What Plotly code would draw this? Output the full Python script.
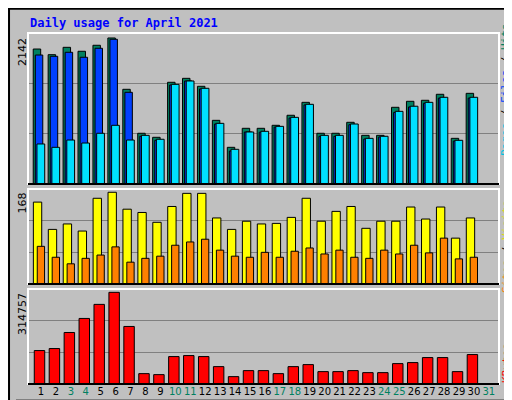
import plotly.graph_objects as go

days = list(range(1, 32))
weekend = [3, 4, 10, 11, 17, 18, 24, 25, 31]
hits = [1980, 1897, 2005, 1947, 2035, 2142, 1389, 744, 685, 1492, 1550, 1433, 934, 538, 817,
        817, 861, 1008, 1198, 744, 744, 905, 714, 714, 1125, 1213, 1228, 1316, 670, 1330, 0]
files = [1892, 1873, 1932, 1859, 1991, 2123, 1345, 700, 641, 1452, 1511, 1394, 880, 484, 763,
         760, 835, 968, 1160, 700, 700, 870, 660, 690, 1050, 1130, 1185, 1260, 630, 1260, 0]
pages = [587, 538, 645, 601, 744, 861, 645, 714, 656, 1462, 1511, 1404, 890, 509, 763,
         773, 846, 978, 1169, 714, 714, 880, 670, 700, 1066, 1141, 1198, 1272, 641, 1272, 0]
visits = [150, 100, 110, 97, 157, 168, 137, 131, 113, 142, 166, 166, 121, 100, 115,
          110, 111, 122, 157, 115, 133, 142, 102, 115, 115, 141, 119, 141, 84, 121, 0]
sites = [69, 49, 37, 47, 53, 68, 40, 47, 51, 71, 77, 82, 62, 51, 49,
         58, 49, 60, 66, 55, 62, 49, 47, 62, 55, 71, 57, 84, 46, 49, 0]
kbytes = [114870, 121760, 176900, 225150, 273390, 314757, 197580, 35610, 32160, 94190, 97640,
          94190, 59730, 25270, 45950, 45950, 35610, 59730, 66620, 42500, 42500, 45950, 39060,
          39060, 70070, 73520, 90750, 90750, 42500, 101090, 0]

BG = "#c0c0c0"
fig = go.Figure()
line = dict(color="black", width=1)

def bar(y, color, off, w, ax):
    fig.add_trace(go.Bar(x=days, y=y, offset=off, width=w, marker=dict(color=color, line=line),
                         xaxis="x" + ax, yaxis="y" + ax, showlegend=False, hoverinfo="skip"))

bar(hits, "#008060", -0.52, 0.5, "")
bar(files, "#0040ff", -0.38, 0.5, "")
bar(pages, "#00e0ff", -0.27, 0.52, "")
bar(visits, "#ffff00", -0.51, 0.56, "2")
bar(sites, "#ff8000", -0.25, 0.49, "2")
bar(kbytes, "#ff0000", -0.45, 0.7, "3")

xr = [0.13, 31.68]
xd = [20 / 512, 491 / 512]
R1, R2, R3 = 2215, 174, 326230
doms = [[1 - 176 / 400, 1 - 25 / 400], [1 - 276 / 400, 1 - 181 / 400], [1 - 376 / 400, 1 - 281 / 400]]
ticktext = [f'<span style="color:#008060">{d}</span>' if d in weekend else str(d) for d in days]

lay = dict(width=512, height=400, margin=dict(l=0, r=0, t=0, b=0), paper_bgcolor=BG,
           plot_bgcolor=BG, barmode="overlay", font=dict(family="DejaVu Sans", size=11, color="black"))
for i, (ax, R) in enumerate([("", R1), ("2", R2), ("3", R3)]):
    lay["xaxis" + ax] = dict(domain=xd, range=xr, showgrid=False, zeroline=False,
                             showticklabels=(ax == "3"), anchor="y" + ax, ticks="", tickangle=0,
                             tickvals=days, ticktext=ticktext, tickfont=dict(size=10))
    lay["yaxis" + ax] = dict(domain=doms[i], range=[0, R], dtick=R / 3, showgrid=True,
                             gridcolor="#808080", gridwidth=1, showticklabels=False,
                             zeroline=False, anchor="x" + ax)
fig.update_layout(**lay)

shapes = []
shapes.append(dict(type="rect", xref="paper", yref="paper", x0=503 / 512, x1=509 / 512, y0=3 / 400, y1=1 - 8 / 400,
                   fillcolor="#808080", line=dict(width=0), layer="below"))
shapes.append(dict(type="rect", xref="paper", yref="paper", x0=8 / 512, x1=509 / 512, y0=3 / 400, y1=9 / 400,
                   fillcolor="#808080", line=dict(width=0), layer="below"))
shapes.append(dict(type="rect", xref="paper", yref="paper", x0=0.002, x1=0.998, y0=0.002, y1=0.998,
                   line=dict(color="black", width=2), layer="below"))
for d in doms:
    shapes.append(dict(type="rect", xref="paper", yref="paper", x0=xd[0], x1=xd[1], y0=d[0], y1=d[1],
                       line=dict(color="white", width=2)))
    shapes.append(dict(type="line", xref="paper", yref="paper", x0=xd[0], x1=xd[1], y0=d[0], y1=d[0],
                       line=dict(color="black", width=2)))
fig.update_layout(shapes=shapes)

ann = [dict(text="<b>Daily usage for April 2021</b>", x=20 / 512, y=1 - 15 / 400, xref="paper", yref="paper",
            xanchor="left", yanchor="middle", showarrow=False,
            font=dict(family="DejaVu Sans Mono", size=12, color="#0000ff"))]
for txt, ytop in [("2142", 28), ("168", 183), ("314757", 283)]:
    ann.append(dict(text=txt, x=14 / 512, y=1 - ytop / 400, xref="paper", yref="paper", textangle=-90,
                    xanchor="center", yanchor="top", showarrow=False, font=dict(size=11)))
mono = dict(family="DejaVu Sans Mono", size=11)
for txt, ymid in [('<span style="color:#00c0e0">Pages</span> / <span style="color:#0040ff">Files</span> / <span style="color:#008060">Hits</span>', 82),
                  ('<span style="color:#ff8000">Sites</span> / <span style="color:#e0e000">Visits</span>', 239),
                  ('<span style="color:#ff0000">KBytes</span>', 355)]:
    ann.append(dict(text=txt, x=498 / 512, y=1 - ymid / 400, xref="paper", yref="paper", textangle=-90,
                    xanchor="center", yanchor="middle", showarrow=False, font=mono))
fig.update_layout(annotations=ann)
fig.write_html("out.html")
